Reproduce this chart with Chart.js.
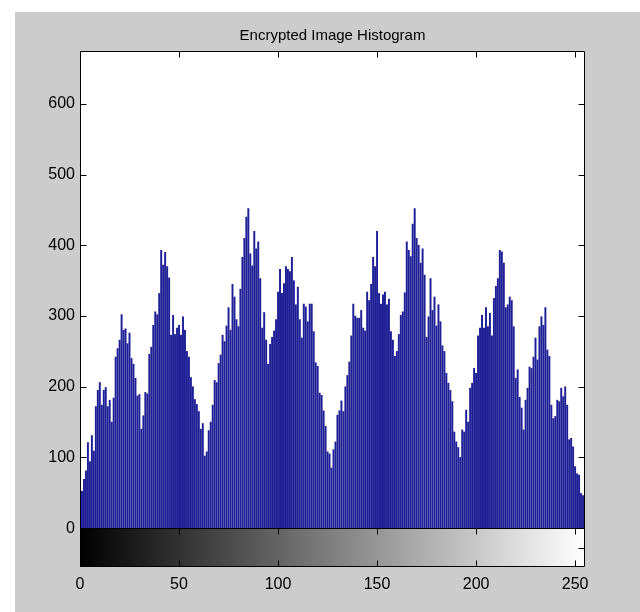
<!DOCTYPE html>
<html>
<head>
<meta charset="utf-8">
<script src="https://cdn.jsdelivr.net/npm/chart.js@4.4.1/dist/chart.umd.min.js"></script>
<style>
  html, body { margin: 0; padding: 0; background: #fff; }
  #wrap { width: 640px; height: 612px; }
</style>
</head>
<body>
<div id="wrap"><canvas id="histChart" width="640" height="612"></canvas></div>
<script>
// pixel counts per gray level (levels 0..255)
const countsA = [
  34, 52, 69, 81, 121, 94, 131, 109, 172, 195, 206, 174, 195, 199, 172, 181,
  150, 184, 242, 254, 266, 302, 280, 282, 261, 276, 240, 232, 212, 187, 189, 140,
  159, 192, 190, 246, 256, 287, 306, 302, 332, 393, 372, 390, 370, 354, 273, 301,
  274, 283, 287, 273, 299, 280, 250, 242, 213, 200, 182, 175, 165, 140, 148, 102
];
const countsB = [
  108, 138, 150, 174, 209, 206, 233, 245, 273, 264, 286, 312, 280, 345, 327, 295,
  285, 338, 383, 410, 440, 452, 388, 371, 420, 395, 405, 353, 283, 305, 266, 232,
  260, 270, 279, 295, 334, 366, 332, 346, 370, 366, 363, 383, 350, 316, 341, 295,
  269, 317, 313, 292, 317, 317, 278, 234, 229, 191, 188, 166, 144, 108, 105, 85
];
const countsC = [
  111, 122, 160, 166, 180, 165, 200, 216, 235, 272, 317, 300, 297, 297, 308, 283,
  279, 334, 322, 345, 383, 370, 420, 332, 317, 330, 334, 316, 324, 278, 266, 243,
  250, 274, 301, 306, 333, 405, 393, 384, 430, 452, 410, 400, 375, 395, 358, 270,
  299, 353, 308, 327, 286, 316, 292, 258, 250, 219, 205, 195, 179, 136, 122, 114
];
const countsD = [
  100, 139, 136, 167, 150, 198, 205, 226, 219, 272, 283, 301, 283, 312, 285, 304,
  272, 325, 342, 353, 393, 391, 375, 312, 316, 327, 322, 285, 212, 224, 185, 170,
  139, 181, 198, 228, 226, 242, 269, 238, 285, 299, 287, 312, 252, 243, 174, 155,
  158, 181, 179, 198, 186, 200, 174, 125, 127, 115, 87, 77, 75, 49, 46, 37
];
const counts = countsA.concat(countsB, countsC, countsD);
const grayLevels = counts.map((_, i) => i);

const xTickValues = [0, 50, 100, 150, 200, 250];
const yTickValues = [0, 100, 200, 300, 400, 500, 600];

const fontFamily = "'Liberation Sans Narrow', 'Arial Narrow', 'Liberation Sans', Arial, sans-serif";

// gray figure, colorbar strip under the histogram and matlab style inward ticks
const matlabFrame = {
  id: 'matlabFrame',
  afterLayout(chart) {
    const t = chart.titleBlock;
    if (t) {
      t.left = chart.chartArea.left;
      t.right = chart.chartArea.right;
      t.width = t.right - t.left;
    }
  },
  beforeDraw(chart) {
    const ctx = chart.ctx;
    const a = chart.chartArea;
    const y0 = Math.round(chart.scales.y.getPixelForValue(0));
    ctx.save();
    ctx.fillStyle = '#ffffff';
    ctx.fillRect(0, 0, chart.width, chart.height);
    ctx.fillStyle = '#cccccc';
    ctx.fillRect(15, 12, chart.width - 15, chart.height - 12);
    ctx.fillStyle = '#ffffff';
    ctx.fillRect(a.left, a.top, a.right - a.left, y0 - a.top);
    const g = ctx.createLinearGradient(a.left, 0, a.right, 0);
    g.addColorStop(0, '#000000');
    g.addColorStop(1, '#ffffff');
    ctx.fillStyle = g;
    ctx.fillRect(a.left, y0, a.right - a.left, a.bottom - y0);
    ctx.restore();
  },
  afterDraw(chart) {
    const ctx = chart.ctx;
    const a = chart.chartArea;
    const xs = chart.scales.x, ys = chart.scales.y;
    const L = a.left + 0.5, R = a.right - 0.5, T = a.top + 0.5, B = a.bottom - 0.5;
    const y0 = Math.round(ys.getPixelForValue(0)) + 0.5;
    const yMid = Math.round((y0 + B) / 2) + 0.5;
    const tick = 6;
    ctx.save();
    ctx.strokeStyle = '#000000';
    ctx.lineWidth = 1;
    ctx.beginPath();
    ctx.rect(L, T, R - L, B - T);
    ctx.moveTo(L, y0); ctx.lineTo(R, y0);
    xTickValues.forEach(v => {
      const px = Math.round(xs.getPixelForValue(v)) + 0.5;
      ctx.moveTo(px, T); ctx.lineTo(px, T + tick);
      ctx.moveTo(px, y0); ctx.lineTo(px, y0 + tick);
      ctx.moveTo(px, B); ctx.lineTo(px, B - tick);
    });
    yTickValues.forEach(v => {
      const py = Math.round(ys.getPixelForValue(v)) + 0.5;
      ctx.moveTo(L, py); ctx.lineTo(L + tick, py);
      ctx.moveTo(R, py); ctx.lineTo(R - tick, py);
    });
    ctx.moveTo(L, yMid); ctx.lineTo(L + tick, yMid);
    ctx.moveTo(R, yMid); ctx.lineTo(R - tick, yMid);
    ctx.stroke();
    ctx.restore();
  }
};

const ctx = document.getElementById('histChart').getContext('2d');
new Chart(ctx, {
  type: 'bar',
  data: {
    datasets: [{
      label: 'Encrypted Image Histogram',
      data: counts.map((c, i) => ({ x: grayLevels[i], y: c })),
      backgroundColor: '#1f1f96',
      borderWidth: 0,
      barThickness: 1.3
    }]
  },
  options: {
    responsive: false,
    animation: false,
    devicePixelRatio: 1,
    layout: { padding: { left: 0, right: 55, top: 0, bottom: 0 } },
    plugins: {
      legend: { display: false },
      tooltip: { enabled: false },
      title: {
        display: true,
        text: 'Encrypted Image Histogram',
        color: '#000000',
        font: { family: fontFamily, size: 15, weight: 'normal' },
        padding: { top: 27, bottom: 6 }
      }
    },
    scales: {
      x: {
        type: 'linear',
        min: 0,
        max: 255,
        offset: false,
        grid: { display: false, drawTicks: false },
        border: { display: false },
        afterBuildTicks(s) { s.ticks = xTickValues.map(v => ({ value: v })); },
        afterFit(s) { s.height = 45; },
        ticks: {
          color: '#000000',
          font: { family: fontFamily, size: 16 },
          padding: 8,
          maxRotation: 0,
          autoSkip: false
        }
      },
      y: {
        min: -55,
        max: 675,
        grid: { display: false, drawTicks: false },
        border: { display: false },
        afterBuildTicks(s) { s.ticks = yTickValues.map(v => ({ value: v })); },
        afterFit(s) { s.width = 80; },
        ticks: {
          color: '#000000',
          font: { family: fontFamily, size: 16 },
          padding: 5
        }
      }
    }
  },
  plugins: [matlabFrame]
});
</script>
</body>
</html>
